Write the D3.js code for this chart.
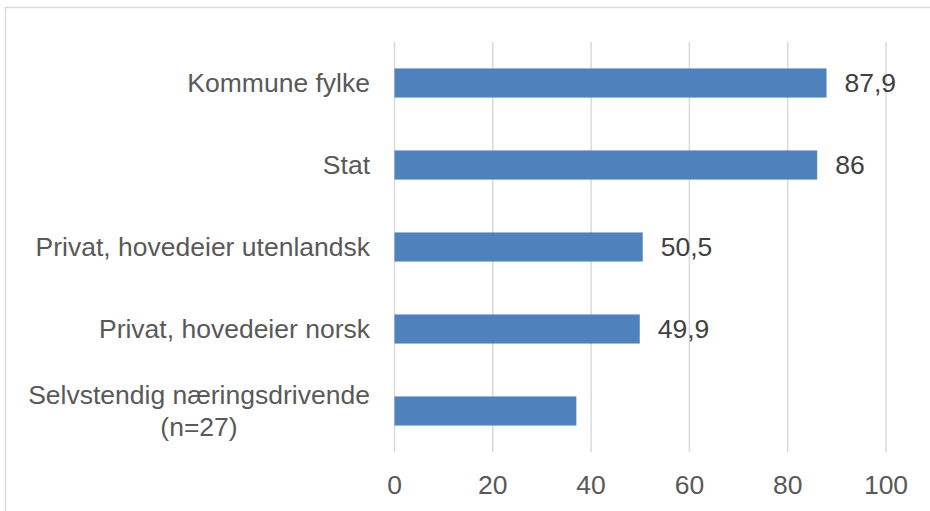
<!DOCTYPE html>
<html>
<head>
<meta charset="utf-8">
<script src="https://cdn.jsdelivr.net/npm/d3@7"></script>
<style>
  html, body { margin: 0; padding: 0; background: #fff; }
  svg { display: block; font-family: "Liberation Sans", Arial, sans-serif; }
</style>
</head>
<body>
<div id="chart"></div>
<script>
// Horizontal bar chart, 0-100 scale
const categories = [
  ["Kommune fylke"],
  ["Stat"],
  ["Privat, hovedeier utenlandsk"],
  ["Privat, hovedeier norsk"],
  ["Selvstendig næringsdrivende", "(n=27)"]
];
const values = [87.9, 86, 50.5, 49.9, 37];
const valueLabels = ["87,9", "86", "50,5", "49,9", null];
const ticks = [0, 20, 40, 60, 80, 100];

const W = 930, H = 511;
const plotL = 394.5, plotR = 886, plotT = 42, plotB = 452;
const fs = "26.5px";

const svg = d3.select("#chart").append("svg").attr("width", W).attr("height", H);

// outer frame (runs off the right and bottom edges)
svg.append("rect").attr("x", 5.5).attr("y", 7.5).attr("width", 1000).attr("height", 1000)
  .attr("fill", "none").attr("stroke", "#d9d9d9").attr("stroke-width", 1.5);

const x = d3.scaleLinear().domain([0, 100]).range([plotL, plotR]);
const y = d3.scaleBand().domain(d3.range(categories.length)).range([plotT, plotB]).paddingInner(0.645).paddingOuter(0.3225);

// gridlines
svg.selectAll(".grid").data(ticks).enter().append("line")
  .attr("x1", d => x(d)).attr("x2", d => x(d))
  .attr("y1", plotT).attr("y2", plotB)
  .attr("stroke", "#d9d9d9").attr("stroke-width", 1.5);

// bars
svg.selectAll(".bar").data(values).enter().append("rect")
  .attr("x", x(0)).attr("y", (d, i) => y(i))
  .attr("width", d => x(d) - x(0)).attr("height", y.bandwidth())
  .attr("fill", "#4f81bd");

// value labels
svg.selectAll(".val").data(values).enter().append("text")
  .filter((d, i) => valueLabels[i] != null)
  .attr("x", d => x(d) + 18).attr("y", (d, i) => y(i) + y.bandwidth() / 2)
  .attr("dy", "0.35em").attr("font-size", fs).attr("fill", "#404040")
  .text((d, i) => valueLabels[i]);

// category labels
const cat = svg.selectAll(".cat").data(categories).enter().append("text")
  .attr("font-size", fs).attr("fill", "#595959")
  .attr("text-anchor", d => d.length > 1 ? "middle" : "end")
  .attr("transform", (d, i) => {
    const cy = y(i) + y.bandwidth() / 2;
    return "translate(" + (d.length > 1 ? 199 : 370) + "," + cy + ")";
  });
cat.each(function(lines) {
  const t = d3.select(this);
  lines.forEach((s, k) => {
    t.append("tspan").attr("x", 0)
      .attr("y", (k - (lines.length - 1) / 2) * 32)
      .attr("dy", "0.35em").text(s);
  });
});

// x axis tick labels
svg.selectAll(".tick").data(ticks).enter().append("text")
  .attr("x", d => x(d)).attr("y", 485).attr("dy", "0.35em")
  .attr("text-anchor", "middle").attr("font-size", fs).attr("fill", "#595959")
  .text(d => d);
</script>
</body>
</html>
